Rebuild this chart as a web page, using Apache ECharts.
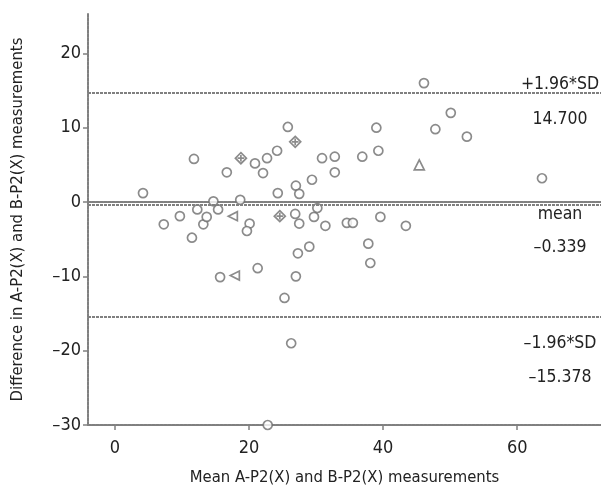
<!DOCTYPE html>
<html>
<head>
<meta charset="utf-8">
<script src="https://cdn.jsdelivr.net/npm/echarts@6/dist/echarts.min.js"></script>
<style>
  html, body { margin: 0; padding: 0; background: #fff; }
  #chart { width: 601px; height: 492px; }
</style>
</head>
<body>
<div id="chart"></div>
<script>
// Bland-Altman: mean vs difference
const circlePts = [
  [4.2, 1.2], [11.8, 5.8], [16.7, 4.0], [20.9, 5.2], [22.1, 3.9], [22.7, 5.9],
  [24.2, 6.9], [25.8, 10.1], [24.3, 1.2], [27.0, 2.2], [27.5, 1.1], [18.7, 0.3],
  [14.7, 0.1], [7.3, -3.0], [9.7, -1.9], [11.5, -4.8], [12.3, -1.0], [13.2, -3.0],
  [13.7, -2.0], [15.4, -1.0], [20.1, -2.9], [19.7, -3.9], [26.9, -1.6], [27.5, -2.9],
  [29.7, -2.0], [30.2, -0.8], [31.4, -3.2], [27.3, -6.9], [29.0, -6.0], [21.3, -8.9],
  [15.7, -10.1], [27.0, -10.0], [25.3, -12.9], [26.3, -19.0], [22.8, -30.0], [29.4, 3.0],
  [30.9, 5.9], [32.8, 6.1], [32.8, 4.0], [36.9, 6.1], [39.3, 6.9], [39.0, 10.0],
  [46.1, 16.0], [47.8, 9.8], [50.1, 12.0], [52.5, 8.8], [63.7, 3.2], [34.6, -2.8],
  [35.5, -2.8], [39.6, -2.0], [43.4, -3.2], [37.8, -5.6], [38.1, -8.2]
];
const diamondPts = [[18.8, 5.9], [26.9, 8.1], [24.6, -1.9]];
const leftTriPts = [[17.6, -1.9], [17.9, -9.9]];
const upTriPts = [[45.4, 5.0]];

const xTicks = [0, 20, 40, 60];
const yTicks = [-30, -20, -10, 0, 10, 20];

const upperLimit = 14.700;
const meanDiff = -0.339;
const lowerLimit = -15.378;

const FONT = "'Liberation Sans Narrow', 'DejaVu Sans Condensed', 'Roboto Condensed', sans-serif";
const GREY = '#808080';
const dashLine = { color: GREY, width: 2, type: [3, 1] };

function fmt(v) {
  return v < 0 ? '\u2013' + Math.abs(v) : String(v);
}
function fmt3(v) {
  return v < 0 ? '\u2013' + Math.abs(v).toFixed(3) : v.toFixed(3);
}

const markerStyle = {
  color: '#fff',
  borderColor: '#6e6e6e',
  borderWidth: 1.7
};

const chart = echarts.init(document.getElementById('chart'));

chart.setOption({
  animation: false,
  textStyle: { fontFamily: FONT },
  grid: { left: 88, top: 14, right: 0, bottom: 67 },
  xAxis: [{
    type: 'value',
    min: -4,
    max: 72.5,
    name: 'Mean A-P2(X) and B-P2(X) measurements',
    nameLocation: 'middle',
    nameGap: 44,
    nameTextStyle: { fontSize: 16.5, color: '#222', fontFamily: FONT },
    axisLine: { show: true, onZero: false, lineStyle: dashLine },
    axisTick: { show: true, length: 5, customValues: xTicks, lineStyle: { color: GREY, width: 1.5 } },
    axisLabel: { customValues: xTicks, formatter: fmt, fontSize: 18, color: '#222', margin: 14, fontFamily: FONT },
    splitLine: { show: false }
  }, {
    type: 'value',
    position: 'top',
    min: -4,
    max: 72.5,
    axisLine: { show: true, lineStyle: dashLine },
    axisTick: { show: false },
    axisLabel: { show: false },
    splitLine: { show: false }
  }],
  yAxis: {
    type: 'value',
    min: -30,
    max: 25.3,
    name: 'Difference in A-P2(X) and B-P2(X) measurements',
    nameLocation: 'middle',
    nameGap: 62,
    nameTextStyle: { fontSize: 16.5, color: '#222', fontFamily: FONT },
    axisLine: { show: true, onZero: false, lineStyle: dashLine },
    axisTick: { show: true, length: 5, customValues: yTicks, lineStyle: { color: GREY, width: 1.5 } },
    axisLabel: { customValues: yTicks, formatter: fmt, fontSize: 18, color: '#222', margin: 7, fontFamily: FONT },
    splitLine: { show: false }
  },
  series: [{
    type: 'scatter',
    data: circlePts,
    symbol: 'circle',
    symbolSize: 9,
    itemStyle: markerStyle,
    markLine: {
      silent: true,
      symbol: 'none',
      label: { show: false },
      lineStyle: dashLine,
      data: [{ yAxis: upperLimit }, { yAxis: meanDiff }, { yAxis: lowerLimit }]
    }
  }, {
    type: 'scatter',
    data: diamondPts,
    symbol: 'path://M0,-5 L5,0 L0,5 L-5,0 Z M0,-3 L0,3 M-3,0 L3,0',
    symbolSize: 11,
    itemStyle: markerStyle
  }, {
    type: 'scatter',
    data: leftTriPts,
    symbol: 'triangle',
    symbolRotate: 90,
    symbolSize: 9,
    itemStyle: markerStyle
  }, {
    type: 'scatter',
    data: upTriPts,
    symbol: 'triangle',
    symbolSize: 10,
    itemStyle: markerStyle
  }]
});

// reference line annotations on the right side
const labelX = 560;
function py(v) { return chart.convertToPixel({ gridIndex: 0 }, [0, v])[1]; }
const notes = [
  { text: '+1.96*SD', y: py(upperLimit) - 8 },
  { text: fmt3(upperLimit), y: py(upperLimit) + 27 },
  { text: 'mean', y: py(meanDiff) + 10 },
  { text: fmt3(meanDiff), y: py(meanDiff) + 43 },
  { text: '\u20131.96*SD', y: py(lowerLimit) + 27 },
  { text: fmt3(lowerLimit), y: py(lowerLimit) + 61 }
];
chart.setOption({
  graphic: notes.map(n => ({
    type: 'text',
    x: labelX,
    y: n.y,
    style: {
      text: n.text,
      fontSize: 17.5,
      fontFamily: FONT,
      fill: '#222',
      align: 'center',
      verticalAlign: 'middle'
    }
  }))
});
</script>
</body>
</html>
